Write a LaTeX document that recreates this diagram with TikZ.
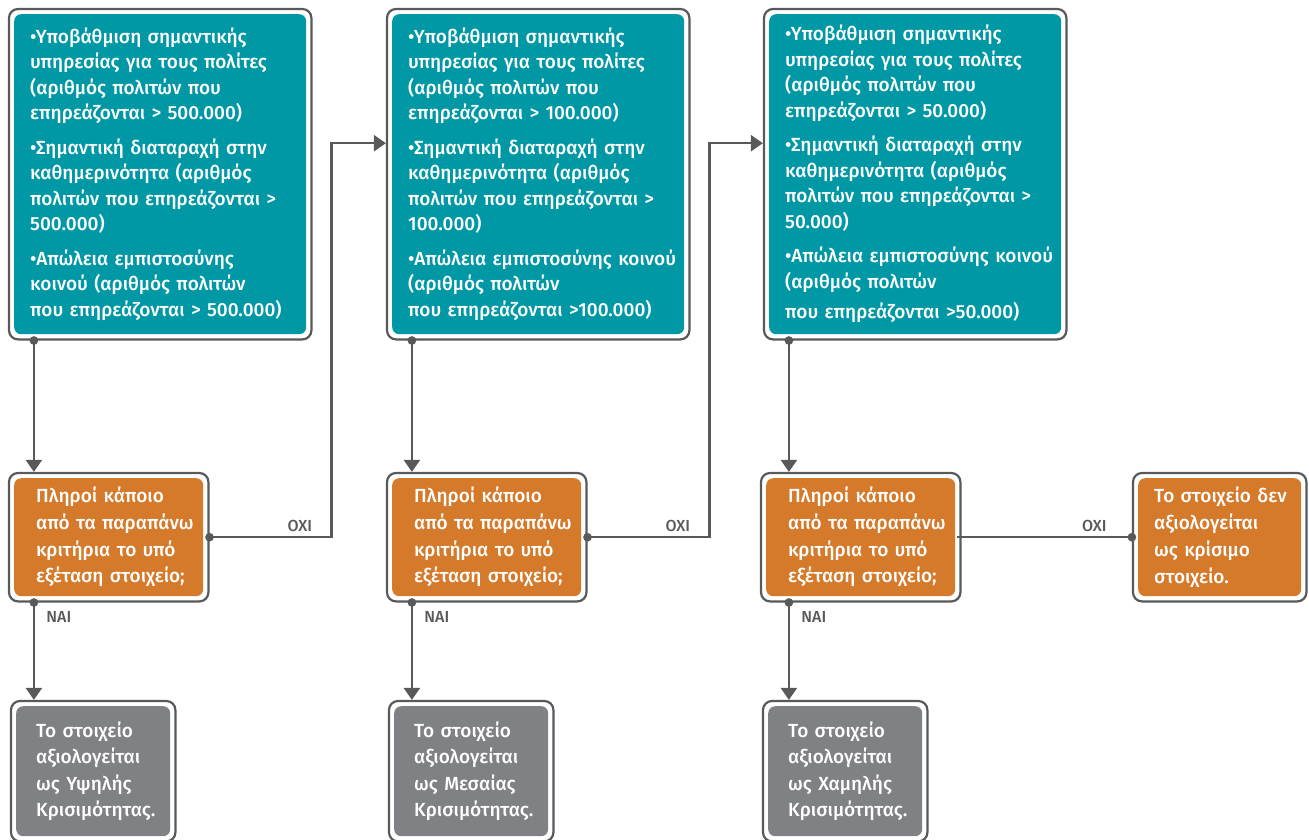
\documentclass[tikz,border=0pt]{standalone}
\usepackage{fontspec}
\setmainfont{Fira Sans Medium}
\usetikzlibrary{arrows.meta,fit}

\definecolor{critteal}{RGB}{0,152,164}
\definecolor{askorange}{RGB}{213,121,42}
\definecolor{resgrey}{RGB}{128,129,132}
\definecolor{wiregrey}{RGB}{88,89,91}

\begin{document}
\begin{tikzpicture}[
    x=1pt,
    y=-1pt,
    >={Triangle[width=16pt,length=12pt]},
    card/.style={
      anchor=north west,
      rounded corners=7pt,
      text=white,
      align=left,
      font=\fontsize{19}{25.5}\selectfont
    },
    criteria/.style={
      card,
      fill=critteal,
      text width=260pt,
      inner xsep=16pt,
      minimum height=320pt
    },
    question/.style={
      card,
      fill=askorange,
      text width=145pt,
      inner xsep=22pt,
      minimum height=118pt,
      font=\fontsize{19}{26.7}\selectfont
    },
    verdict/.style={
      card,
      fill=resgrey,
      text width=114pt,
      inner xsep=20pt,
      minimum height=130pt,
      font=\fontsize{19}{26.3}\selectfont
    },
    every fit/.style={
      draw=wiregrey,
      line width=2.2pt,
      rounded corners=9pt,
      inner sep=5pt
    },
    wire/.style={
      draw=wiregrey,
      line width=2.4pt,
      {Circle[length=8.5pt]}->,
      shorten <=-4.25pt
    },
    tag/.style={
      text=wiregrey,
      font=\fontsize{16}{16}\selectfont
    }
  ]
    \clip (0,0) rectangle (1309,839);

    % criteria
    \node[criteria] (c1) at (14,14) {%
      •Υποβάθμιση σημαντικής\\
      υπηρεσίας για τους πολίτες\\
      (αριθμός πολιτών που\\
      επηρεάζονται~>~500.000)\\[9pt]
      •Σημαντική διαταραχή στην\\
      καθημερινότητα (αριθμός\\
      πολιτών~που~επηρεάζονται~>\\
      500.000)\\[9pt]
      •Απώλεια εμπιστοσύνης\\
      κοινού (αριθμός πολιτών\\
      που~επηρεάζονται~>~500.000)};
    \node[criteria] (c2) at (392,14) {%
      •Υποβάθμιση σημαντικής\\
      υπηρεσίας για τους πολίτες\\
      (αριθμός πολιτών που\\
      επηρεάζονται~>~100.000)\\[9pt]
      •Σημαντική διαταραχή στην\\
      καθημερινότητα (αριθμός\\
      πολιτών~που~επηρεάζονται~>\\
      100.000)\\[9pt]
      •Απώλεια~εμπιστοσύνης~κοινού\\
      (αριθμός πολιτών\\
      που~επηρεάζονται~>100.000)};
    \node[criteria] (c3) at (769,14) {%
      •Υποβάθμιση σημαντικής\\
      υπηρεσίας για τους πολίτες\\
      (αριθμός πολιτών που\\
      επηρεάζονται~>~50.000)\\[9pt]
      •Σημαντική διαταραχή στην\\
      καθημερινότητα (αριθμός\\
      πολιτών~που~επηρεάζονται~>\\
      50.000)\\[9pt]
      •Απώλεια~εμπιστοσύνης~κοινού\\
      (αριθμός πολιτών\\[5pt]
      που~επηρεάζονται~>50.000)};

    % questions
    \foreach \q/\x in {1/14,2/392,3/766}
      \node[question] (q\q) at (\x,478) {Πληροί κάποιο\\ από~τα~παραπάνω\\ κριτήρια το υπό\\ εξέταση~στοιχείο;};
    \node[question,text width=131pt,inner xsep=16pt] (q4) at (1138,478) {Το~στοιχείο~δεν\\ αξιολογείται\\ ως κρίσιμο\\ στοιχείο.};

    % verdicts
    \node[verdict] (v1) at (16,706) {Το στοιχείο\\ αξιολογείται\\ ως Υψηλής\\ Κρισιμότητας.};
    \node[verdict] (v2) at (394,706) {Το στοιχείο\\ αξιολογείται\\ ως Μεσαίας\\ Κρισιμότητας.};
    \node[verdict] (v3) at (768,706) {Το στοιχείο\\ αξιολογείται\\ ως Χαμηλής\\ Κρισιμότητας.};

    % frames
    \foreach \n in {c1,c2,c3,q1,q2,q3,q4,v1,v2,v3}
      \node[fit=(\n)] (\n f) {};

    % links
    \foreach \k in {1,2,3} {
      \draw[wire] ([xshift=26pt]c\k f.south west) coordinate (s\k) -- (s\k |- q\k f.north);
      \draw[wire] (s\k |- q\k f.south) --
        node[tag,pos=0.15,right=8pt] {ΝΑΙ} (s\k |- v\k f.north);
    }
    \draw[wire] (q1f.east) -- node[tag,pos=0.74,above=1pt] {ΟΧΙ} ++(122,0)
      |- ([yshift=31pt]c2f.west);
    \draw[wire] (q2f.east) -- node[tag,pos=0.74,above=1pt] {ΟΧΙ} ++(122,0)
      |- ([yshift=31pt]c3f.west);
    \draw[wire,-{Circle[length=8.5pt]},shorten >=-4.25pt] (q3f.east) --
      node[tag,pos=0.78,above=1pt] {ΟΧΙ} (q4f.west);
\end{tikzpicture}
\end{document}
